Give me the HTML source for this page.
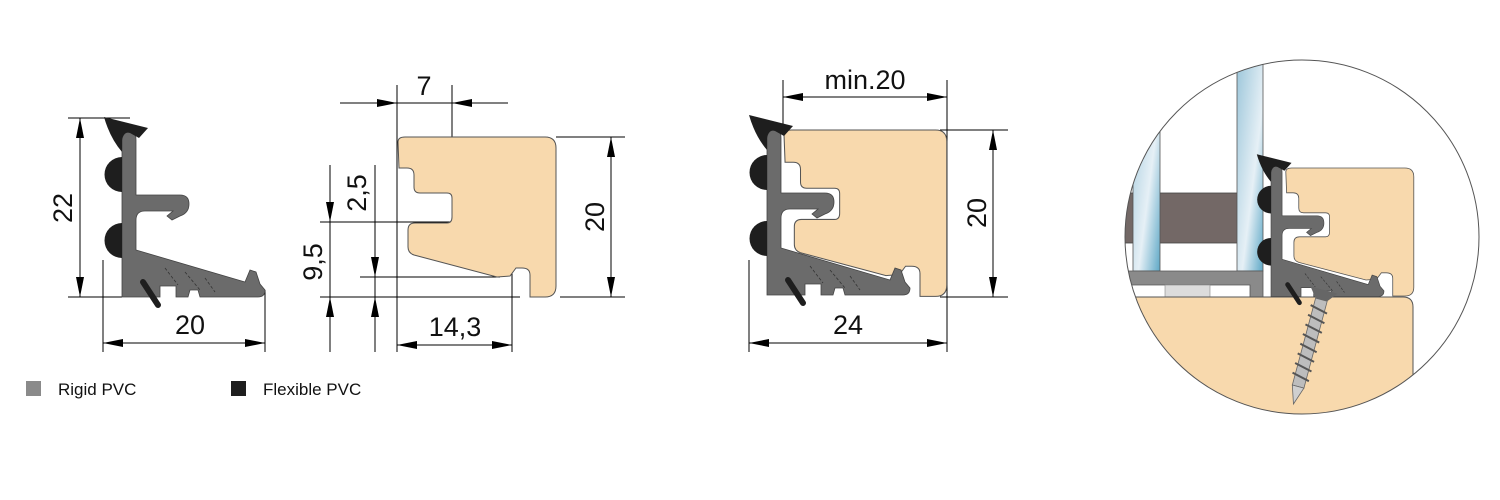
<!DOCTYPE html>
<html><head><meta charset="utf-8"><style>
html,body{margin:0;padding:0;background:#fff;}
svg{display:block;}
text{font-family:"Liberation Sans",sans-serif;fill:#111;}
</style></head><body>
<svg width="1500" height="500" viewBox="0 0 1500 500" xmlns="http://www.w3.org/2000/svg">
<defs>
<marker id="a" viewBox="0 0 20 8" refX="20" refY="4" markerWidth="20" markerHeight="8" markerUnits="userSpaceOnUse" orient="auto-start-reverse"><path d="M0,0 L20,4 L0,8 Z" fill="#000"/></marker>
<linearGradient id="gl" x1="0" y1="0" x2="1" y2="1"><stop offset="0" stop-color="#9cc6da"/><stop offset="0.6" stop-color="#e6f0f6"/><stop offset="1" stop-color="#5ea8c6"/></linearGradient>
<g id="seal">
<path d="M122,140 Q122,130 129,130 Q136,130 136,140 L136,195 L180,195 Q189,195 189,204 Q189,213 180,216 L172,220 L167,216 L173,211 L145,211 Q136,211 136,220 L136,250 L245,282 L250,270 L256,272 L260,284 L265,290 Q265,297 258,297 L200,297 L198,290 L190,290 L188,297 L176,297 L176,286 L160,286 L160,297 L122,297 Z" fill="#6b6b6b" stroke="#444" stroke-width="0.8"/>
<path d="M165,268 L178,285 M185,272 L200,290 M205,278 L215,292" stroke="#333" stroke-width="0.8" stroke-dasharray="3,2" fill="none"/>
<path d="M104,117 L148,128 L139,138 L130,133 Q124,131 122,140 L122,152 Q110,138 104,117 Z" fill="#1e1e1e"/>
<path d="M122,157 A17,17 0 0 0 122,192 Z" fill="#1e1e1e"/>
<path d="M122,223 A17,17 0 0 0 122,258 Z" fill="#1e1e1e"/>
<line x1="143" y1="282" x2="158" y2="305" stroke="#1e1e1e" stroke-width="6" stroke-linecap="round"/>
</g>
<path id="wood" d="M405,137 L545,137 Q556,137 556,148 L556,286 Q556,297 545,297 L530,297 L530,275 Q530,268 522,268 L516,268 L510,276 L497,277 L414,255 Q408,253 408,247 L408,230 Q408,223 415,223 L447,223 Q452,223 452,217 L452,198 Q452,193 447,193 L420,193 Q414,193 414,187 L414,175 Q414,168 407,168 L399,168 L398,142 Q398,137 405,137 Z" fill="#f8d9ad" stroke="#555" stroke-width="1"/>
<clipPath id="cc"><circle cx="1302" cy="237" r="177"/></clipPath>
</defs>

<g stroke="#000" stroke-width="1" fill="none">
<!-- profile 1 dims -->
<line x1="68" y1="118" x2="130" y2="118"/><line x1="68" y1="297" x2="122" y2="297"/>
<line x1="80" y1="118" x2="80" y2="297" marker-start="url(#a)" marker-end="url(#a)"/>
<line x1="103" y1="260" x2="103" y2="352"/><line x1="265" y1="290" x2="265" y2="352"/>
<line x1="103" y1="343" x2="265" y2="343" marker-start="url(#a)" marker-end="url(#a)"/>
<!-- profile 2 dims -->
<line x1="340" y1="103" x2="397" y2="103" marker-end="url(#a)"/><line x1="508" y1="103" x2="452" y2="103" marker-end="url(#a)"/>
<line x1="397" y1="103" x2="452" y2="103"/>
<line x1="397" y1="85" x2="397" y2="352"/><line x1="452" y1="85" x2="452" y2="222"/>
<line x1="556" y1="137" x2="625" y2="137"/><line x1="560" y1="297" x2="625" y2="297"/>
<line x1="611" y1="137" x2="611" y2="297" marker-start="url(#a)" marker-end="url(#a)"/>
<line x1="320" y1="222" x2="452" y2="222"/><line x1="360" y1="277" x2="500" y2="277"/><line x1="320" y1="297" x2="520" y2="297"/>
<line x1="330" y1="165" x2="330" y2="222" marker-end="url(#a)"/><line x1="330" y1="352" x2="330" y2="297" marker-end="url(#a)"/><line x1="330" y1="222" x2="330" y2="297"/>
<line x1="375" y1="165" x2="375" y2="277" marker-end="url(#a)"/><line x1="375" y1="352" x2="375" y2="297" marker-end="url(#a)"/><line x1="375" y1="277" x2="375" y2="297"/>
<line x1="512" y1="270" x2="512" y2="352"/>
<line x1="397" y1="345" x2="512" y2="345" marker-start="url(#a)" marker-end="url(#a)"/>
<!-- profile 3 dims -->
<line x1="783" y1="80" x2="783" y2="135"/><line x1="947" y1="80" x2="947" y2="352"/>
<line x1="783" y1="97" x2="947" y2="97" marker-start="url(#a)" marker-end="url(#a)"/>
<line x1="940" y1="130" x2="1008" y2="130"/><line x1="940" y1="297" x2="1008" y2="297"/>
<line x1="993" y1="130" x2="993" y2="297" marker-start="url(#a)" marker-end="url(#a)"/>
<line x1="749" y1="260" x2="749" y2="352"/>
<line x1="749" y1="343" x2="947" y2="343" marker-start="url(#a)" marker-end="url(#a)"/>
</g>

<use href="#seal"/>
<use href="#wood"/>
<g transform="translate(783,130) scale(1.03,1.04) translate(-397,-137)"><use href="#wood"/></g>
<use href="#seal" transform="translate(645,-2)"/>

<!-- labels -->
<text x="0" y="0" font-size="27" text-anchor="middle" transform="translate(72,208) rotate(-90)">22</text>
<text x="190" y="334" font-size="27" text-anchor="middle">20</text>
<text x="424" y="95" font-size="27" text-anchor="middle">7</text>
<text x="0" y="0" font-size="27" text-anchor="middle" transform="translate(604,217) rotate(-90)">20</text>
<text x="0" y="0" font-size="27" text-anchor="middle" transform="translate(366,193) rotate(-90)">2,5</text>
<text x="0" y="0" font-size="27" text-anchor="middle" transform="translate(322,262) rotate(-90)">9,5</text>
<text x="455" y="336" font-size="27" text-anchor="middle">14,3</text>
<text x="865" y="89" font-size="27" text-anchor="middle">min.20</text>
<text x="0" y="0" font-size="27" text-anchor="middle" transform="translate(986,213) rotate(-90)">20</text>
<text x="848" y="334" font-size="27" text-anchor="middle">24</text>

<!-- legend -->
<rect x="26" y="381" width="15" height="15" fill="#8a8a8a"/>
<text x="58" y="395" font-size="17">Rigid PVC</text>
<rect x="231" y="381" width="15" height="15" fill="#1e1e1e"/>
<text x="263" y="395" font-size="17">Flexible PVC</text>

<!-- circle detail -->
<g clip-path="url(#cc)">
<rect x="1120" y="193" width="120" height="50" fill="#736866" stroke="#444" stroke-width="0.8"/>
<rect x="1133" y="60" width="27" height="211" fill="url(#gl)" stroke="#555" stroke-width="0.8"/>
<rect x="1237" y="60" width="26" height="211" fill="url(#gl)" stroke="#555" stroke-width="0.8"/>
<path d="M1120,271 L1263,271 L1263,297 L1250,297 L1250,285 L1120,285 Z" fill="#8a8a8a" stroke="#555" stroke-width="0.8"/>
<rect x="1165" y="285" width="45" height="12" fill="#dcdcdc" stroke="#888" stroke-width="0.6"/>
<g transform="translate(1285,168) scale(0.81,0.8) translate(-397,-137)"><use href="#wood"/></g>
<path d="M1120,297 L1403,297 Q1413,297 1413,307 L1413,420 L1120,420 Z" fill="#f8d9ad" stroke="#555" stroke-width="1"/>
<g transform="translate(1256,155) scale(0.79) translate(-103,-118)"><use href="#seal"/></g>
<g transform="translate(1324,290) rotate(15)">
<path d="M-14,0 L14,0 L6,10 L-6,10 Z" fill="#666"/>
<rect x="-6" y="10" width="12" height="90" fill="#bdbdbd" stroke="#666" stroke-width="0.8"/>
<path d="M-6,100 L6,100 L0,118 Z" fill="#cfcfcf" stroke="#666" stroke-width="0.8"/>
<path d="M-9,18 L9,22 M-9,28 L9,32 M-9,38 L9,42 M-9,48 L9,52 M-9,58 L9,62 M-9,68 L9,72 M-9,78 L9,82 M-9,88 L9,92" stroke="#555" stroke-width="2"/>
</g>
</g>
<circle cx="1302" cy="237" r="177" fill="none" stroke="#555" stroke-width="1"/>
</svg>
</body></html>
